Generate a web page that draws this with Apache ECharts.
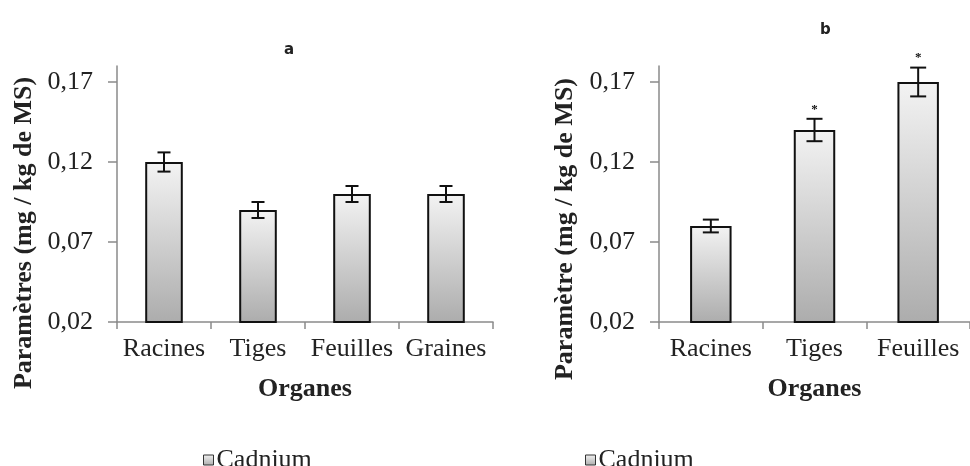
<!DOCTYPE html>
<html>
<head>
<meta charset="utf-8">
<script src="https://cdn.jsdelivr.net/npm/echarts@6/dist/echarts.min.js"></script>
<style>
html,body{margin:0;padding:0;background:#fff;}
#main{width:970px;height:466px;}
</style>
</head>
<body>
<div id="main"></div>
<script>
// ---- data ----
var categoriesA = ['Racines', 'Tiges', 'Feuilles', 'Graines'];
var valuesA = [0.12, 0.09, 0.10, 0.10];
var errorsA = [0.006, 0.005, 0.005, 0.005];
var starsA = ['', '', '', ''];

var categoriesB = ['Racines', 'Tiges', 'Feuilles'];
var valuesB = [0.08, 0.14, 0.17];
var errorsB = [0.004, 0.007, 0.009];
var starsB = ['', '*', '*'];

var yTicks = [0.02, 0.07, 0.12, 0.17];
var seriesName = 'Cadnium';
var yTitleA = 'Paramètres (mg / kg de MS)';
var yTitleB = 'Paramètre (mg / kg de MS)';
var xTitle = 'Organes';

// ---- chart ----
var serif = 'Liberation Serif, Times New Roman, serif';
var barFill = new echarts.graphic.LinearGradient(0, 0, 0, 1, [
  {offset: 0, color: '#f3f3f3'},
  {offset: 1, color: '#acacac'}
]);

function yAxisCfg(gridIndex) {
  return {
    type: 'value', gridIndex: gridIndex, min: 0.02, max: 0.18,
    axisLine: {show: true, lineStyle: {color: '#8a8a8a', width: 1.5}},
    axisTick: {show: true, inside: false, length: 9, customValues: yTicks, lineStyle: {color: '#8a8a8a', width: 1.5}},
    axisLabel: {customValues: yTicks, margin: 24, fontFamily: serif, fontSize: 26, color: '#222',
      formatter: function (v) { return v.toFixed(2).replace('.', ','); }},
    splitLine: {show: false}
  };
}
function xAxisCfg(gridIndex, cats) {
  return {
    type: 'category', gridIndex: gridIndex, data: cats,
    name: xTitle, nameLocation: 'middle', nameGap: 54,
    nameTextStyle: {fontFamily: serif, fontWeight: 'bold', fontSize: 26, color: '#222'},
    axisLine: {show: true, lineStyle: {color: '#8a8a8a', width: 1.5}},
    axisTick: {show: true, length: 7, alignWithLabel: false, lineStyle: {color: '#8a8a8a', width: 1.5}},
    axisLabel: {margin: 14, fontFamily: serif, fontSize: 26, color: '#222', interval: 0}
  };
}
function errRender(errs, stars, cap) {
  return function (params, api) {
    var idx = api.value(0), v = api.value(1), e = errs[idx];
    var top = api.coord([idx, v + e]);
    var bot = api.coord([idx, v - e]);
    var lw = 2, col = '#111';
    var children = [
      {type: 'line', shape: {x1: top[0], y1: top[1], x2: bot[0], y2: bot[1]}, style: {stroke: col, lineWidth: lw}},
      {type: 'line', shape: {x1: top[0] - cap, y1: top[1], x2: top[0] + cap, y2: top[1]}, style: {stroke: col, lineWidth: lw}},
      {type: 'line', shape: {x1: bot[0] - cap, y1: bot[1], x2: bot[0] + cap, y2: bot[1]}, style: {stroke: col, lineWidth: lw}}
    ];
    if (stars[idx]) {
      children.push({type: 'text', x: top[0], y: top[1] - 3,
        style: {text: stars[idx], fill: '#111', font: 'bold 13px ' + serif, align: 'center', verticalAlign: 'bottom'}});
    }
    return {type: 'group', children: children};
  };
}
function pairs(vals) { return vals.map(function (v, i) { return [i, v]; }); }

var titleFont = {fontFamily: 'DejaVu Sans, Arial, sans-serif', fontWeight: 'bold', fontSize: 15, color: '#222'};
var legendCfg = function (left) {
  return {data: [seriesName], left: left, top: 442, icon: 'rect', itemWidth: 10, itemHeight: 10, itemGap: 4,
    textStyle: {fontFamily: serif, fontSize: 26, color: '#222', padding: [0, 0, 0, -2]},
    itemStyle: {borderColor: '#333', borderWidth: 1}, selectedMode: false};
};

var option = {
  backgroundColor: '#fff',
  animation: false,
  title: [
    {text: 'a', left: 279, top: 38, textStyle: titleFont},
    {text: 'b', left: 815, top: 18, textStyle: titleFont}
  ],
  legend: [legendCfg(198), legendCfg(580)],
  grid: [
    {left: 117, top: 66, width: 376, height: 256},
    {left: 659, top: 66, width: 321, height: 256}
  ],
  xAxis: [xAxisCfg(0, categoriesA), xAxisCfg(1, categoriesB)],
  yAxis: [yAxisCfg(0), yAxisCfg(1)],
  graphic: [
    {type: 'text', x: 24, y: 233, rotation: Math.PI / 2,
      style: {text: yTitleA, fill: '#222', font: 'bold 26px ' + serif, align: 'center', verticalAlign: 'middle'}},
    {type: 'text', x: 565, y: 229, rotation: Math.PI / 2,
      style: {text: yTitleB, fill: '#222', font: 'bold 26px ' + serif, align: 'center', verticalAlign: 'middle'}}
  ],
  series: [
    {name: seriesName, type: 'bar', xAxisIndex: 0, yAxisIndex: 0, data: valuesA, barWidth: '40%',
      itemStyle: {color: barFill, borderColor: '#111', borderWidth: 2}},
    {name: seriesName, type: 'bar', xAxisIndex: 1, yAxisIndex: 1, data: valuesB, barWidth: '40%',
      itemStyle: {color: barFill, borderColor: '#111', borderWidth: 2}},
    {name: 'errA', type: 'custom', xAxisIndex: 0, yAxisIndex: 0, data: pairs(valuesA), z: 5,
      renderItem: errRender(errorsA, starsA, 6.5), silent: true},
    {name: 'errB', type: 'custom', xAxisIndex: 1, yAxisIndex: 1, data: pairs(valuesB), z: 5,
      renderItem: errRender(errorsB, starsB, 8), silent: true}
  ]
};
var chart = echarts.init(document.getElementById('main'));
chart.setOption(option);
</script>
</body>
</html>
